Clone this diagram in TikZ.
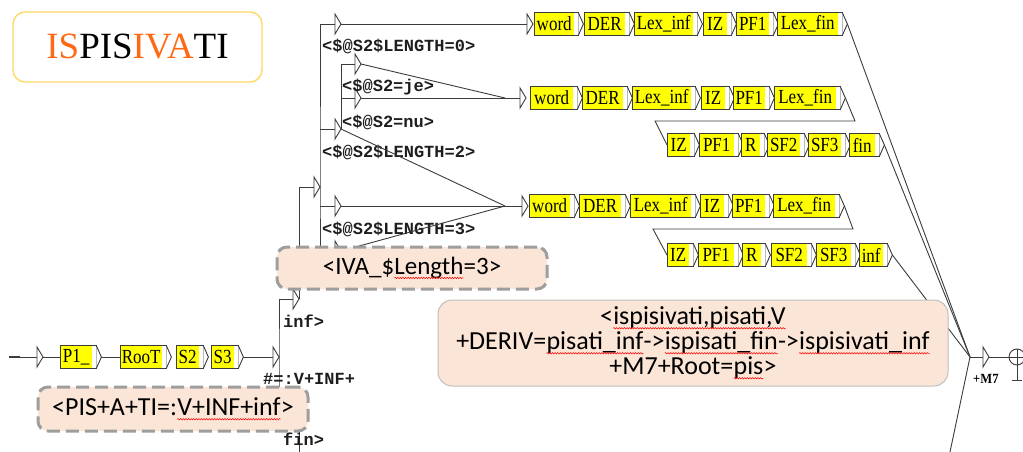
\documentclass[tikz,border=0pt]{standalone}
\usepackage{fontspec}
\setmainfont{Liberation Serif}
\newfontfamily\callfont{Carlito}
\newfontfamily\umono{Liberation Mono}
\usepackage{graphicx}
\usetikzlibrary{calc,decorations.pathmorphing}
\definecolor{uyellow}{RGB}{255,255,0}
\definecolor{ugray}{RGB}{60,60,60}
\definecolor{peach}{RGB}{251,229,214}
\definecolor{dashgray}{RGB}{158,158,158}
\definecolor{orangeT}{RGB}{255,105,20}
\definecolor{goldB}{RGB}{255,217,102}
\definecolor{monoc}{RGB}{30,30,30}
\newcommand\sq[1]{\tikz[baseline=(sqn.base)]{\node[inner sep=0pt, outer sep=0pt, minimum width=0pt, minimum height=0pt, draw=none, fill=none, rounded corners=0pt, solid] (sqn) {#1};\draw[red, line width=0.5pt, solid, rounded corners=0pt, fill=none, decorate, decoration={snake, amplitude=0.7pt, segment length=2.6pt}] ([yshift=-3.5pt]sqn.base west) -- ([yshift=-3.5pt]sqn.base east);}}
\newcommand\utxt[1]{\scalebox{0.85}[1]{\fontsize{20}{20}\selectfont #1}}
\newcommand\ubox[5]{%
  \pgfmathsetmacro\uw{#3-#2-4}%
  \node[ubx, minimum width=\uw pt, anchor=west] (#1) at (#2,#4) {\utxt{#5}};
  \fill[white] (#1.north east) rectangle ([xshift=4pt]#1.south east);
  \draw[uline] (#1.north west) rectangle ([xshift=4pt]#1.south east);
  \draw[uline, fill=white] ([xshift=4pt]#1.north east) -- ([xshift=9pt]#1.east) -- ([xshift=4pt]#1.south east);
  \coordinate (#1-out) at ([xshift=9pt]#1.east);
}
\newcommand\utri[3]{%
  \coordinate (#1) at (#2,#3);
  \draw[uline, fill=white] ([yshift=10pt]#1) -- ([xshift=6pt]#1) -- ([yshift=-10pt]#1) -- cycle;
  \coordinate (#1-out) at ([xshift=6pt]#1);
}
\begin{document}
\begin{tikzpicture}[x=1pt,y=-1pt,
  uline/.style={draw=ugray, line width=0.9pt},
  ubx/.style={rectangle, fill=uyellow, inner sep=0pt, minimum height=22pt},
  monol/.style={inner sep=0pt, anchor=base west, font=\umono\bfseries\fontsize{17}{17}\selectfont, text=monoc},
  cbox/.style={rounded corners=10pt, fill=peach, inner sep=0pt, align=center, font=\callfont\fontsize{25}{25}\selectfont},
  dashb/.style={draw=dashgray, line width=3pt, dash pattern=on 13pt off 6pt},
]
\useasboundingbox (0,0) rectangle (1023,452);
\fill[white] (0,0) rectangle (1023,452);

% ---- start row
\coordinate (init) at (9,357);
\draw[uline, line width=2.6pt] (init) -- ++(11,0);
\utri{t0}{37}{357}
\draw[uline] (init) -- (t0);
\ubox{p1}{60}{96}{357}{P1\_}
\ubox{root}{120}{166}{357}{RooT}
\ubox{s2}{176}{203}{357}{S2}
\ubox{s3}{211}{238}{357}{S3}
\utri{ts3}{273}{357}
\draw[uline] (t0-out) -- (p1.west);
\draw[uline] (p1-out) -- (root.west);
\draw[uline] (s3-out) -- (ts3);

% ---- inf / fin branches
\utri{tinf}{293}{299}
\utri{tfin}{293}{418}
\draw[uline] (tinf) -| (ts3-out) |- (tfin);
\coordinate (finend) at (299,452);
\draw[uline] (tfin-out) -- (finend);
\node[monol] (linf) at (283,327) {inf>};
\node[monol] (lfin) at (283,445) {fin>};
\node[monol] (lv) at (263,384) {\#=:V+INF+};

% ---- sub bus
\utri{tsub}{314}{187}
\draw[uline] (tinf-out) |- (tsub);
\utri{tA}{335}{24}
\utri{tC}{335}{129}
\utri{tD}{335}{206}
\utri{tE}{335}{251}
\draw[uline] (tA) -| (tsub-out) |- (tE);
\draw[uline] (tsub-out |- tC) -- (tC);
\draw[uline] (tsub-out |- tD) -- (tD);
\utri{tje}{355}{64}
\utri{tnu}{355}{98}
\draw[uline] (tje) -| (tC-out);
\draw[uline] (tC-out |- tnu) -- (tnu);
\node[monol] (l0) at (322,52) {<\$@S2\$LENGTH=0>};
\node[monol] (lje) at (342,92) {<\$@S2=je>};
\node[monol] (lnu) at (342,128) {<\$@S2=nu>};
\node[monol] (l2) at (322,157) {<\$@S2\$LENGTH=2>};
\node[monol] (l3) at (322,234) {<\$@S2\$LENGTH=3>};

% ---- rows
\utri{tr1}{527}{24}
\utri{tr2}{520}{98}
\utri{tr4}{522}{206}
\coordinate (m2) at (505,98);
\coordinate (m4) at (505,206);
\draw[uline] (tA-out) -- (tr1);
\draw[uline] (tje-out) -- (m2);
\draw[uline] (tnu-out) -- (tr2);
\draw[uline] (tC-out) -- (m4);
\draw[uline] (tD-out) -- (tr4);
\draw[uline] (tE-out) -- (m4);

\ubox{wd1}{534}{578}{24}{word}
\ubox{der1}{584}{629}{24}{DER}
\ubox{li1}{634}{697}{24}{Lex\_inf}
\ubox{iz1}{703}{731}{24}{IZ}
\ubox{pf1}{736}{773}{24}{PF1}
\ubox{lf1}{777}{842}{24}{Lex\_fin}

\ubox{wd2}{530}{577}{98}{word}
\ubox{der2}{582}{627}{98}{DER}
\ubox{li2}{632}{695}{98}{Lex\_inf}
\ubox{iz2}{701}{729}{98}{IZ}
\ubox{pf2}{733}{769}{98}{PF1}
\ubox{lf2}{774}{840}{98}{Lex\_fin}

\ubox{iz3}{667}{694}{145}{IZ}
\ubox{pf3}{699}{738}{145}{PF1}
\ubox{r3}{741}{764}{145}{R}
\ubox{sfa3}{767}{804}{145}{SF2}
\ubox{sfb3}{808}{845}{145}{SF3}
\ubox{fin3}{849}{879}{145}{fin}

\ubox{wd4}{529}{574}{206}{word}
\ubox{der4}{579}{625}{206}{DER}
\ubox{li4}{630}{695}{206}{Lex\_inf}
\ubox{iz4}{700}{728}{206}{IZ}
\ubox{pf4}{732}{769}{206}{PF1}
\ubox{lf4}{773}{839}{206}{Lex\_fin}

\ubox{iz5}{667}{693}{255}{IZ}
\ubox{pf5}{698}{738}{255}{PF1}
\ubox{r5}{742}{765}{255}{R}
\ubox{sfa5}{771}{811}{255}{SF2}
\ubox{sfb5}{816}{855}{255}{SF3}
\ubox{inf5}{859}{887}{255}{inf}

\draw[uline] (lf2-out) -- (855,121) -- (655,121) -- (iz3.west);
\draw[uline] (lf4-out) -- (853,229) -- (653,229) -- (iz5.west);

% ---- end
\coordinate (conv) at (970,357);
\coordinate (convend) at (950,452);
\draw[uline] (lf1-out) -- (conv);
\draw[uline] (fin3-out) -- (conv);
\draw[uline] (inf5-out) -- (conv);
\draw[uline] (conv) -- (convend);
\utri{tM}{983}{357}
\draw[uline] (conv) -- (tM);
\node[circle, draw=ugray, line width=0.9pt, minimum size=16pt, inner sep=0pt] (fs) at (1017,357) {};
\draw[uline] (tM-out) -- (fs.west);
\draw[uline] (fs.west) -- (fs.east);
\draw[uline] (fs.north) -- ([yshift=-23pt]fs.center) coordinate (fsb);
\draw[uline] ([xshift=-5pt]fsb) -- ([xshift=5pt]fsb);
\node[inner sep=0pt, anchor=base west, font=\bfseries\fontsize{14}{14}\selectfont] (m7) at (973,383) {\scalebox{0.9}[1]{+M7}};

% ---- title
\node[draw=goldB, line width=1.4pt, rounded corners=12pt, fill=white, minimum width=249pt, minimum height=70pt, inner sep=0pt] (title) at (137.5,47)
  {\fontsize{37}{37}\selectfont\textcolor{orangeT}{IS}PIS\textcolor{orangeT}{IVA}TI};

% ---- callouts
\node[cbox, dashb, minimum width=270pt, minimum height=42pt] (c1) at (412,268) {<IVA\_\$\sq{Length}=3>};
\node[cbox, dashb, minimum width=270pt, minimum height=44pt, font=\callfont\fontsize{26}{26}\selectfont] (c2) at (173,409) {<PIS+A+TI=:\sq{V+INF+inf}>};
\node[cbox, draw=black!25, line width=1pt, rounded corners=14pt, minimum width=510pt, minimum height=86pt, font=\callfont\fontsize{26}{25}\selectfont] (c3) at (693,343)
  {<\sq{ispisivati,pisati,V}\\+DERIV=\sq{pisati\_inf}->\sq{ispisati\_fin}->\sq{ispisivati\_inf}\\+M7+Root=\sq{pis}>};
\end{tikzpicture}
\end{document}
